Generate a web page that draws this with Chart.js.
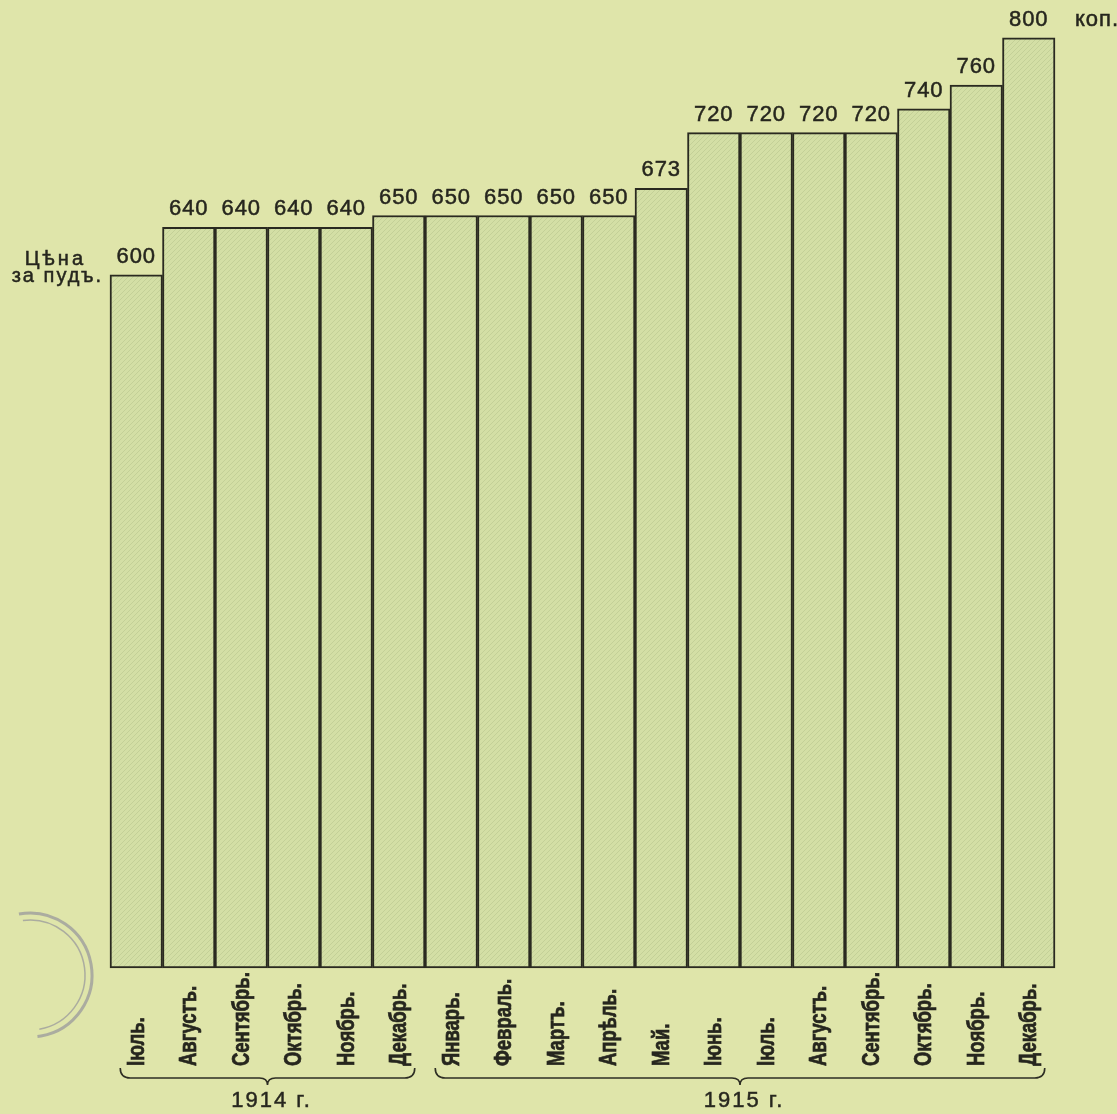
<!DOCTYPE html>
<html>
<head>
<meta charset="utf-8">
<script src="https://cdn.jsdelivr.net/npm/chart.js@4.4.1/dist/chart.umd.min.js"></script>
<style>
  html, body { margin: 0; padding: 0; background: #dfe5aa; }
  #wrap { width: 1117px; height: 1114px; position: relative; }
</style>
</head>
<body>
<div id="wrap"><canvas id="mycanvas"></canvas></div>
<script>
// цены за пудъ по мѣсяцамъ, коп.
var months = ['Іюль.', 'Августъ.', 'Сентябрь.', 'Октябрь.', 'Ноябрь.', 'Декабрь.',
              'Январь.', 'Февраль.', 'Мартъ.', 'Апрѣль.', 'Май.', 'Іюнь.',
              'Іюль.', 'Августъ.', 'Сентябрь.', 'Октябрь.', 'Ноябрь.', 'Декабрь.'];
var prices = [600, 640, 640, 640, 640, 650, 650, 650, 650, 650, 673, 720, 720, 720, 720, 740, 760, 800];
var years = ['1914 г.', '1915 г.'];
var yearFirst = [0, 6];
var yearLast = [5, 17];
var priceFloor = 15;
var priceTop = 815;

// штриховка столбцовъ
function hatch() {
    var c = document.createElement('canvas');
    c.width = 5; c.height = 5;
    var g = c.getContext('2d');
    g.fillStyle = '#d3dfa5';
    g.fillRect(0, 0, 5, 5);
    g.strokeStyle = 'rgba(160,175,120,0.3)';
    g.lineWidth = 1;
    g.beginPath();
    g.moveTo(0, 5); g.lineTo(5, 0);
    g.moveTo(-1, 1); g.lineTo(1, -1);
    g.moveTo(4, 6); g.lineTo(6, 4);
    g.stroke();
    return g.createPattern(c, 'repeat');
}

function brace(ctx, x1, x2, y) {
    var mid = (x1 + x2) / 2;
    ctx.beginPath();
    ctx.moveTo(x1, y - 10);
    ctx.quadraticCurveTo(x1, y, x1 + 10, y);
    ctx.lineTo(mid - 8, y);
    ctx.quadraticCurveTo(mid, y, mid, y + 7);
    ctx.quadraticCurveTo(mid, y, mid + 8, y);
    ctx.lineTo(x2 - 10, y);
    ctx.quadraticCurveTo(x2, y, x2, y - 10);
    ctx.stroke();
}

function inkText(ctx, s, px, py) {
    ctx.fillText(s, px, py);
    ctx.strokeText(s, px, py);
}

var labelsPlugin = {
    id: 'labels',
    afterDatasetsDraw: function (chart) {
        var ctx = chart.ctx;
        var x = chart.scales.x;
        var y = chart.scales.y;
        ctx.save();
        ctx.fillStyle = '#26261e';
        ctx.strokeStyle = '#26261e';
        ctx.lineWidth = 0.5;

        // цифры надъ столбцами
        ctx.font = '22px "Liberation Sans", Arial, sans-serif';
        ctx.letterSpacing = '1px';
        ctx.textAlign = 'center';
        ctx.textBaseline = 'alphabetic';
        for (var i = 0; i < prices.length; i++) {
            inkText(ctx, String(prices[i]), x.getPixelForValue(i), y.getPixelForValue(prices[i]) - 12);
        }
        ctx.textAlign = 'left';
        inkText(ctx, 'коп.', 1075, y.getPixelForValue(800) - 12);

        ctx.font = '20px "Liberation Sans", Arial, sans-serif';
        ctx.textAlign = 'right';
        ctx.letterSpacing = '3px';
        inkText(ctx, 'Цѣна', 86, 265);
        ctx.letterSpacing = '2px';
        inkText(ctx, 'за пудъ.', 103, 282);

        // мѣсяцы
        ctx.font = 'bold 24px "Liberation Sans", Arial, sans-serif';
        ctx.letterSpacing = '0px';
        ctx.lineWidth = 0.7;
        ctx.textAlign = 'left';
        ctx.textBaseline = 'middle';
        for (var j = 0; j < months.length; j++) {
            ctx.save();
            ctx.translate(x.getPixelForValue(j) + 1, 1066);
            ctx.rotate(-Math.PI / 2);
            ctx.scale(0.77, 1);
            inkText(ctx, months[j], 0, 0);
            ctx.restore();
        }

        // годы со скобками
        ctx.strokeStyle = '#2e2e24';
        ctx.font = '22px "Liberation Sans", Arial, sans-serif';
        ctx.letterSpacing = '2px';
        ctx.textAlign = 'center';
        ctx.textBaseline = 'alphabetic';
        for (var k = 0; k < years.length; k++) {
            var a = x.getPixelForValue(yearFirst[k]) - 16;
            var b = x.getPixelForValue(yearLast[k]) + 16;
            ctx.lineWidth = 1.6;
            brace(ctx, a, b, 1078);
            ctx.lineWidth = 0.5;
            inkText(ctx, years[k], (a + b) / 2 + 4, 1107);
        }

        // штемпель
        ctx.strokeStyle = 'rgba(120,115,150,0.5)';
        ctx.lineWidth = 3;
        ctx.beginPath();
        ctx.arc(30, 975, 62, -1.75, 1.45);
        ctx.stroke();
        ctx.lineWidth = 1.5;
        ctx.beginPath();
        ctx.arc(30, 975, 55, -1.7, 1.4);
        ctx.stroke();
        ctx.restore();
    }
};

var ctx = document.getElementById('mycanvas');
var barGraph = new Chart(ctx, {
    type: 'bar',
    data: {
        labels: months,
        datasets: [{
            data: prices,
            base: priceFloor,
            backgroundColor: hatch(),
            borderColor: '#2a2a20',
            borderWidth: 2,
            borderSkipped: false,
            barPercentage: 1,
            categoryPercentage: 1,
            clip: 6
        }]
    },
    options: {
        responsive: true,
        maintainAspectRatio: false,
        animation: false,
        layout: { padding: { left: 110, right: 62, top: 20, bottom: 146 } },
        plugins: { legend: { display: false }, tooltip: { enabled: false } },
        scales: {
            x: { display: false },
            y: { display: false, min: priceFloor, max: priceTop }
        }
    },
    plugins: [labelsPlugin]
});
</script>
</body>
</html>
